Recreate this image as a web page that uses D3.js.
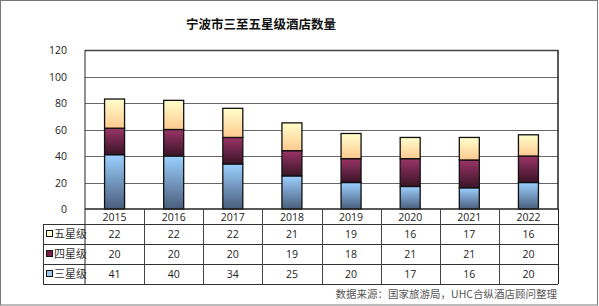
<!DOCTYPE html>
<html><head><meta charset="utf-8">
<script src="https://cdn.jsdelivr.net/npm/d3@7"></script>
<style>body{margin:0;background:#fff}svg{display:block}</style>
</head><body><svg id="c" width="599" height="306"></svg>
<script>
const years = ["2015","2016","2017","2018","2019","2020","2021","2022"];
const seriesNames = ["三星级","四星级","五星级"];
const three = [41,40,34,25,20,17,16,20];
const four = [20,20,20,19,18,21,21,20];
const five = [22,22,22,21,19,16,17,16];
const yTicks = [0,20,40,60,80,100,120];
const title = "宁波市三至五星级酒店数量";
const source = "数据来源：国家旅游局，UHC合纵酒店顾问整理";

const svg = d3.select("#c");
const font = "'Noto Sans CJK SC','Open Sans',sans-serif";
const L = 85, R = 558, T = 50, B = 209;
const x = d3.scaleBand().domain(years).range([L, R]).paddingInner(0).paddingOuter(0);
const y = d3.scaleLinear().domain([0,120]).range([B, T]);

// frame
svg.append("rect").attr("x",0.5).attr("y",0.5).attr("width",597).attr("height",304.5)
  .attr("fill","#fff").attr("stroke","#777");

// gradients
const defs = svg.append("defs");
const grads = [
  {id:"g3", top:"#9cd0ff", bot:"#4a5e7c"},
  {id:"g4", top:"#9a3468", bot:"#3a1426"},
  {id:"g5", top:"#ffffcc", bot:"#ffc98f"}
];
grads.forEach(g=>{
  const lg = defs.append("linearGradient").attr("id",g.id).attr("x1",0).attr("y1",0).attr("x2",0).attr("y2",1);
  lg.append("stop").attr("offset","0%").attr("stop-color",g.top);
  lg.append("stop").attr("offset","100%").attr("stop-color",g.bot);
});

// title
svg.append("text").attr("x",261).attr("y",29).attr("text-anchor","middle")
  .attr("font-family",font).attr("font-size",12.5).attr("font-weight","bold").attr("fill","#111").text(title);

// gridlines
svg.append("g").selectAll("line").data(yTicks.filter(d=>d>0)).join("line")
  .attr("x1",L).attr("x2",R).attr("y1",d=>Math.round(y(d))+0.5).attr("y2",d=>Math.round(y(d))+0.5)
  .attr("stroke",d=>d===120?"#444":"#666").attr("stroke-width",d=>d===120?1.5:1);
// right border
svg.append("line").attr("x1",R).attr("x2",R).attr("y1",T).attr("y2",B).attr("stroke","#222").attr("stroke-width",1.5);

// y axis labels
const yAxis = d3.axisLeft(y).tickValues(yTicks).tickSize(0).tickPadding(0);
const ya = svg.append("g").attr("transform",`translate(${67},0)`).call(yAxis);
ya.select(".domain").remove();
ya.selectAll("text").attr("font-family","'Open Sans',sans-serif").attr("font-size",10.5).attr("fill","#222").attr("dy","0.35em");

// stacked bars
const stackData = years.map((yr,i)=>({year:yr, s3:three[i], s4:four[i], s5:five[i]}));
const stack = d3.stack().keys(["s3","s4","s5"])(stackData);
const bw = 20;
const gids = ["g3","g4","g5"];
stack.forEach((layer,li)=>{
  svg.append("g").selectAll("rect").data(layer).join("rect")
    .attr("x",d=>x(d.data.year)+x.bandwidth()/2-bw/2)
    .attr("width",bw)
    .attr("y",d=>y(d[1]))
    .attr("height",d=>y(d[0])-y(d[1]))
    .attr("fill",`url(#${gids[li]})`)
    .attr("stroke","#111").attr("stroke-width",1.3);
});

// x axis baseline
svg.append("line").attr("x1",L).attr("x2",R).attr("y1",B).attr("y2",B).attr("stroke","#222").attr("stroke-width",1.5);
// left axis line
svg.append("line").attr("x1",L).attr("x2",L).attr("y1",T).attr("y2",284).attr("stroke","#222").attr("stroke-width",1);

// table
const rowsY = [209,224,244,264,284];
const tableLeft = 43;
// horizontal lines for data rows
[224,244,264,284].forEach(yy=>{
  svg.append("line").attr("x1",tableLeft).attr("x2",R).attr("y1",yy+0.5).attr("y2",yy+0.5).attr("stroke","#333").attr("stroke-width",1);
});
svg.append("line").attr("x1",tableLeft+0.5).attr("x2",tableLeft+0.5).attr("y1",224).attr("y2",284).attr("stroke","#333");
// vertical lines
years.forEach((yr,i)=>{
  const xx = x(yr)+x.bandwidth();
  svg.append("line").attr("x1",Math.round(xx)+0.5).attr("x2",Math.round(xx)+0.5).attr("y1",209).attr("y2",284)
    .attr("stroke",i===7?"#222":"#444").attr("stroke-width",1);
});
// year header
svg.append("g").selectAll("text").data(years).join("text")
  .attr("x",d=>x(d)+x.bandwidth()/2).attr("y",217).attr("dy","0.35em").attr("text-anchor","middle")
  .attr("font-family","'Open Sans',sans-serif").attr("font-size",10.5).attr("fill","#222").text(d=>d);

const tableRows = [
  {name:"五星级", vals:five, color:"#ffffcc"},
  {name:"四星级", vals:four, color:"#7a2048"},
  {name:"三星级", vals:three, color:"#9cc8f0"}
];
tableRows.forEach((r,ri)=>{
  const cy = (rowsY[ri+1]+rowsY[ri+2])/2;
  svg.append("rect").attr("x",46.5).attr("y",cy-3.5).attr("width",6).attr("height",6)
    .attr("fill",r.color).attr("stroke","#111").attr("stroke-width",1);
  svg.append("text").attr("x",54).attr("y",cy).attr("dy","0.35em")
    .attr("font-family",font).attr("font-size",11).attr("fill","#333").text(r.name);
  svg.append("g").selectAll("text").data(r.vals).join("text")
    .attr("x",(d,i)=>x(years[i])+x.bandwidth()/2).attr("y",cy).attr("dy","0.35em").attr("text-anchor","middle")
    .attr("font-family","'Open Sans',sans-serif").attr("font-size",10.5).attr("fill","#222").text(d=>d);
});

// source
svg.append("text").attr("x",557).attr("y",298).attr("text-anchor","end")
  .attr("font-family",font).attr("font-size",10.5).attr("fill","#555").text(source);
</script></body></html>
